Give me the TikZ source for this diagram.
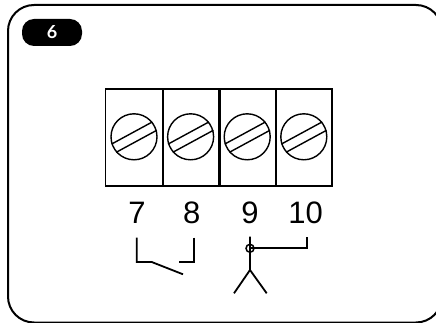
\documentclass[tikz,border=0pt]{standalone}
\usepackage{fontspec}
\setmainfont{Liberation Sans}
\newfontfamily\badgefont{Lato}
\begin{document}
\begin{tikzpicture}[
              x=1pt,y=-1pt,
              frame/.style={line width=2pt,rounded corners=26pt},
              block/.style={draw,line width=1.4pt,minimum width=56.6pt,minimum height=97pt,inner sep=0pt},
              divider/.style={line width=2pt},
              screw/.style={draw,circle,line width=1.4pt,minimum size=46pt,inner sep=0pt},
              slot/.style={line width=1.4pt},
              wire/.style={line width=1.8pt},
              num/.style={font=\fontsize{31}{33}\selectfont,inner sep=0pt},
              badge/.style={fill=black,text=white,rounded corners=12pt,minimum width=60pt,minimum height=27pt,inner sep=0pt,font=\badgefont\bfseries\fontsize{18}{20}\selectfont}
            ]
            \useasboundingbox (0,0) rectangle (436,323);
            \path[clip] (0,0) rectangle (436,323);
            % Frame
            \draw[frame] (8,5) rectangle (442,322.5);
            \node[badge] (tag) at (52,32.5) {6};

            % Terminal blocks
            \foreach \i/\x in {1/134,2/190.6,3/247.2,4/303.8}{
              \node[block] (b\i) at (\x,137.5) {};
              \node[screw] (s\i) at (\x,136.8) {};
              \draw[slot] (s\i.198) -- (s\i.39);
              \draw[slot] (s\i.221) -- (s\i.16);
            }
            \draw[divider] (b1.north east) -- (b1.south east);
            \draw[divider] (b2.north east) -- (b2.south east);
            \draw[divider] (b3.north east) -- (b3.south east);

            % Numbers
            \node[num] (n7) at (137,212.5) {7};
            \node[num] (n8) at (191.7,212.5) {8};
            \node[num] (n9) at (250,212.5) {9};
            \node[num] (n10) at (305.7,212.5) {10};

            % Contact
            \coordinate (c7) at (136.7,237.5);
            \coordinate (c7b) at (136.7,262);
            \coordinate (c7k) at (151.7,262);
            \coordinate (c7e) at (183,274.3);
            \coordinate (c8) at (193.7,237.5);
            \coordinate (c8b) at (193.7,262);
            \coordinate (c8e) at (179,262);
            \draw[wire] (c7) -- (c7b) -- (c7k) -- (c7e);
            \draw[wire] (c8) -- (c8b) -- (c8e);

            % Person
            \node[draw,circle,line width=1.5pt,minimum size=8pt,inner sep=0pt] (hub) at (250,248.3) {};
            \coordinate (neck) at (250,236.7);
            \coordinate (hip) at (250,270);
            \coordinate (footl) at (234,293.3);
            \coordinate (footr) at (266.7,293.3);
            \coordinate (c10) at (307,237.3);
            \coordinate (c10b) at (307,248.3);
            \draw[wire] (neck) -- (hip) -- (footl);
            \draw[wire] (hip) -- (footr);
            \draw[wire] (hub.center) -- (c10b) -- (c10);
            \end{tikzpicture}
\end{document}
